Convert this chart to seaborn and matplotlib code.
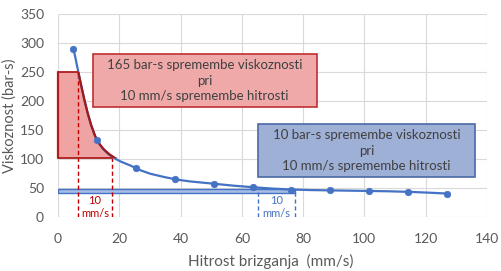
import numpy as np
import matplotlib
matplotlib.use("Agg")
import matplotlib.pyplot as plt
from matplotlib.path import Path
from matplotlib.patches import PathPatch, Rectangle
import seaborn as sns

# ---- data ----
speed = [5, 12.7, 25.4, 38.1, 50.8, 63.5, 76.2, 88.9, 101.6, 114.3, 127]
viscosity = [291, 134, 85, 66, 58, 52, 48, 46.5, 45.5, 44, 41]

red_x = [6.6, 17.6]      # speeds bounding the red 10 mm/s step
red_y = [250, 102]       # viscosities at those speeds
blue_x = [65.4, 77.3]    # speeds bounding the blue 10 mm/s step
blue_y = [48.8, 42.5]    # viscosity band

red_text = "165 bar-s spremembe viskoznosti\npri\n10 mm/s spremembe hitrosti"
blue_text = "10 bar-s spremembe viskoznosti\npri\n10 mm/s spremembe hitrosti"
step_text = "10\nmm/s"
xlabel = "Hitrost brizganja  (mm/s)"
ylabel = "Viskoznost (bar-s)"
xticks = [0, 20, 40, 60, 80, 100, 120, 140]
yticks = [0, 50, 100, 150, 200, 250, 300, 350]

BLUE = "#4472c4"
RED = "#c00000"
GREY = "#595959"

sns.set_theme(style="whitegrid")
plt.rcParams["font.family"] = ["Lato", "DejaVu Sans"]

fig = plt.figure(figsize=(5.02, 2.71), dpi=100)
ax = fig.add_axes([0.1155, 0.198, 0.8545, 0.749])
ax.set_xlim(0, 140)
ax.set_ylim(0, 350)
ax.set_xticks(xticks)
ax.set_yticks(yticks)
ax.grid(True, color="#d9d9d9", lw=0.8)
for s in ax.spines.values():
    s.set_visible(False)
ax.tick_params(axis="both", length=0, labelsize=10, labelcolor=GREY)
ax.tick_params(axis="x", pad=11)
ax.tick_params(axis="y", pad=10)


def smooth_path(xs, ys):
    P = np.column_stack([xs, ys]).astype(float)
    n = len(P)
    verts = [P[0]]
    codes = [Path.MOVETO]
    for i in range(n - 1):
        p0 = P[i - 1] if i > 0 else P[i]
        p1 = P[i]
        p2 = P[i + 1]
        p3 = P[i + 2] if i + 2 < n else P[i + 1]
        verts += [p1 + (p2 - p0) / 6, p2 - (p3 - p1) / 6, p2]
        codes += [Path.CURVE4] * 3
    return verts, codes


# red filled region under the steep part of the curve
verts, codes = smooth_path(speed[:3], viscosity[:3])
reg_verts = verts + [(0, viscosity[2]), (0, viscosity[0]), verts[0]]
reg_codes = codes + [Path.LINETO, Path.LINETO, Path.CLOSEPOLY]
clip = Rectangle((-5, red_y[1]), 50, red_y[0] - red_y[1], transform=ax.transData)
region = PathPatch(Path(reg_verts, reg_codes), facecolor="#f0a3a3",
                   edgecolor="none", zorder=2)
ax.add_patch(region)
region.set_clip_path(clip)

# blue band
ax.add_patch(Rectangle((0, blue_y[1]), blue_x[1], blue_y[0] - blue_y[1],
                       facecolor="#a8bce6", edgecolor=BLUE, lw=1.0, zorder=2))

# main smooth curve
verts, codes = smooth_path(speed, viscosity)
ax.add_patch(PathPatch(Path(verts, codes), facecolor="none",
                       edgecolor=BLUE, lw=1.6, zorder=4))

# red outline over the curve
vr, cr = smooth_path(speed[:3], viscosity[:3])
edge = PathPatch(Path(vr, cr), facecolor="none", edgecolor="#a01818", lw=1.6, zorder=5)
ax.add_patch(edge)
edge.set_clip_path(clip)
ax.plot([0, red_x[0]], [red_y[0], red_y[0]], color="#b01c1c", lw=1.3, zorder=5)
ax.plot([0, red_x[1]], [red_y[1], red_y[1]], color="#b01c1c", lw=1.3, zorder=5)
ax.plot([0, 0], [red_y[1], red_y[0]], color="#b01c1c", lw=1.6, zorder=5, clip_on=False)

# markers
sns.scatterplot(x=speed, y=viscosity, s=22, color=BLUE, edgecolor=BLUE,
                linewidth=0.5, zorder=6, ax=ax, legend=False)

# dashed step markers
ax.vlines(red_x, 0, red_y, colors=RED, linestyles=(0, (3, 2)), lw=1.0, zorder=3)
ax.vlines(blue_x, 0, [50, 47.5], colors=BLUE, linestyles=(0, (3, 2)), lw=1.0, zorder=3)
ax.text(sum(red_x) / 2, 18, step_text, ha="center", va="center", fontsize=8,
        color=RED, linespacing=1.2, zorder=6)
ax.text(sum(blue_x) / 2, 18, step_text, ha="center", va="center", fontsize=8,
        color=BLUE, linespacing=1.2, zorder=6)

# annotation boxes
ax.add_patch(Rectangle((11.3, 189.7), 73.1, 91.3, facecolor="#f0a9a9",
                       edgecolor="#c03030", lw=1.2, zorder=3))
ax.text(11.3 + 73.1 / 2, 189.7 + 91.3 / 2, red_text, ha="center", va="center",
        fontsize=9.5, color="#404040", linespacing=1.35, zorder=4)
ax.add_patch(Rectangle((65.4, 69), 70.7, 91.3, facecolor="#9eb0d6",
                       edgecolor="#4a69a8", lw=1.2, zorder=3))
ax.text(65.4 + 70.7 / 2, 69 + 91.3 / 2, blue_text, ha="center", va="center",
        fontsize=9.5, color="#404040", linespacing=1.35, zorder=4)

ax.set_xlabel(xlabel, fontsize=11, color=GREY)
ax.set_ylabel(ylabel, fontsize=10.5, color=GREY)
ax.xaxis.set_label_coords(0.5 - 0.005, -0.18)
ax.yaxis.set_label_coords(-0.097, 0.5)

fig.savefig("out.png", dpi=100)
